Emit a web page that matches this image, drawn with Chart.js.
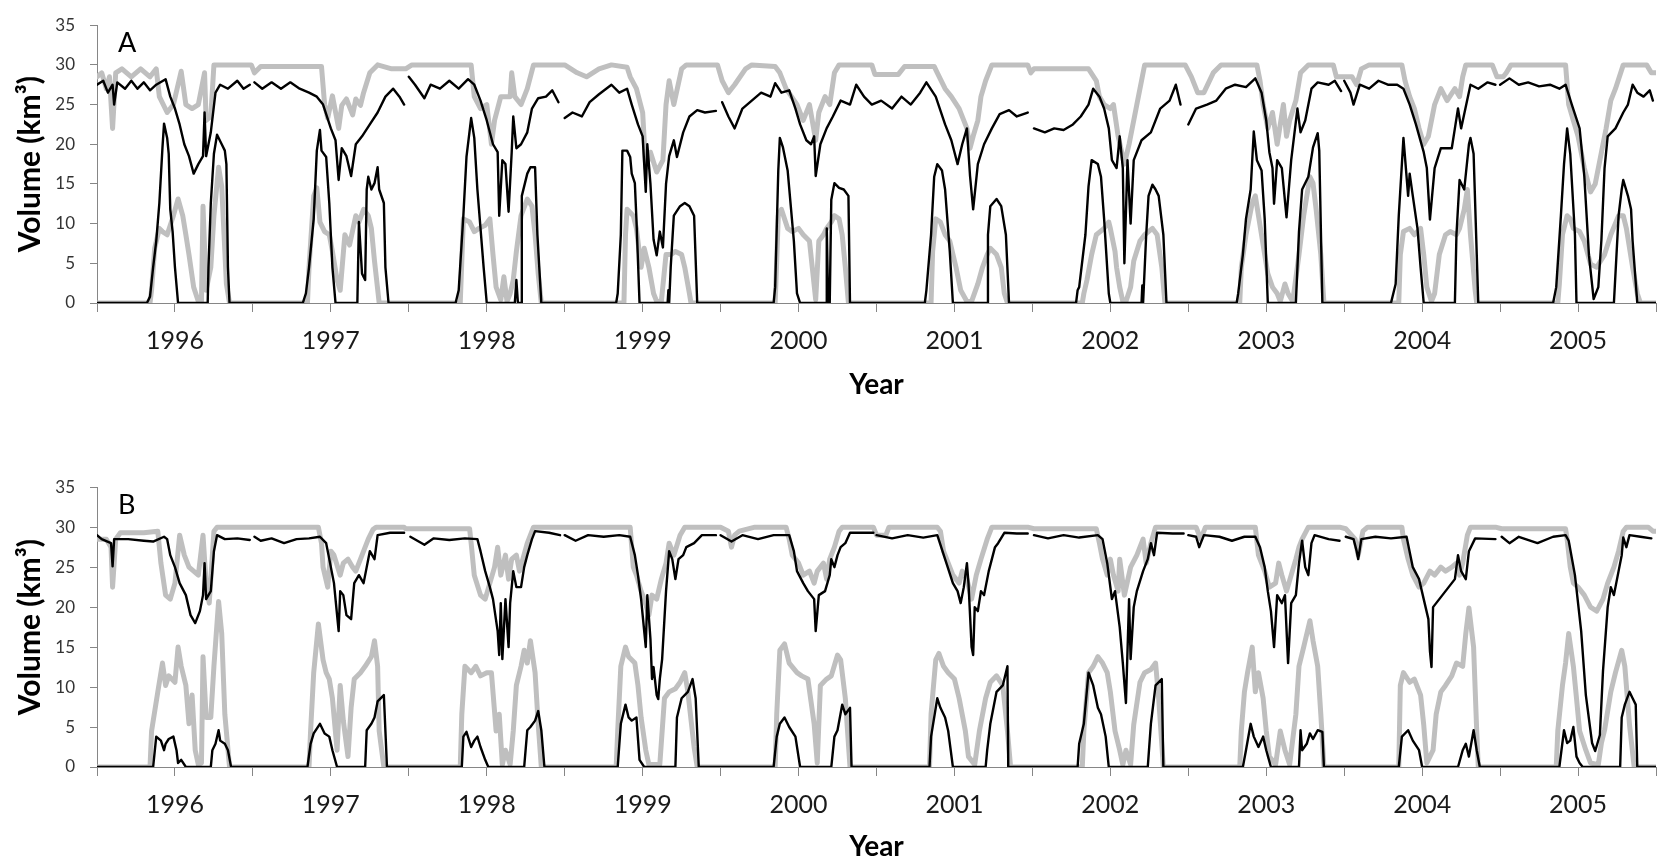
<!DOCTYPE html>
<html>
<head>
<meta charset="utf-8">
<script src="https://cdn.jsdelivr.net/npm/chart.js@4.4.1/dist/chart.umd.min.js"></script>
<style>
  html, body { margin: 0; padding: 0; background: #fff; overflow: hidden; width: 1670px; height: 863px; }
  canvas { position: absolute; left: 0; }
  #chartA { top: 0; }
  #chartB { top: 462px; }
</style>
</head>
<body>
<canvas id="chartA" width="1670" height="432"></canvas>
<canvas id="chartB" width="1670" height="432"></canvas>
<script>
// [year, km3] pairs; null = gap between simulation years
const tickYears = [1996, 1997, 1998, 1999, 2000, 2001, 2002, 2003, 2004, 2005];

// Panel A - simulated (black), upper reservoir
const aSimHigh = [
  [1995.50,27.5],[1995.54,28.0],[1995.57,26.5],[1995.60,27.5],[1995.61,25.0],[1995.63,27.8],[1995.68,27.0],[1995.72,28.0],[1995.76,27.0],[1995.80,27.8],[1995.84,26.8],[1995.88,27.5],[1995.94,28.2],[1995.97,26.0],[1996.00,24.5],[1996.03,22.5],[1996.06,20.0],[1996.09,18.5],[1996.12,16.3],[1996.15,17.5],[1996.18,18.5],[1996.19,24.0],[1996.20,18.5],[1996.23,21.5],[1996.26,26.5],[1996.29,27.5],[1996.34,27.0],[1996.40,28.0],[1996.44,27.0],[1996.48,27.5],[1996.49,null],
  [1996.51,27.8],[1996.56,27.0],[1996.62,27.8],[1996.68,27.0],[1996.74,27.8],[1996.80,27.0],[1996.86,26.5],[1996.91,26.0],[1996.95,25.0],[1997.00,22.0],[1997.03,20.5],[1997.05,15.5],[1997.07,19.5],[1997.10,18.5],[1997.13,16.0],[1997.16,20.0],[1997.20,21.0],[1997.25,22.5],[1997.30,24.0],[1997.35,26.0],[1997.40,27.0],[1997.44,26.0],[1997.47,25.0],[1997.485,null],
  [1997.50,28.5],[1997.54,27.5],[1997.60,25.8],[1997.64,27.5],[1997.70,27.0],[1997.76,28.0],[1997.82,27.0],[1997.88,28.2],[1997.92,27.5],[1997.96,25.5],[1998.00,23.0],[1998.04,20.0],[1998.07,19.0],[1998.08,11.0],[1998.10,18.0],[1998.12,17.5],[1998.14,11.5],[1998.16,19.0],[1998.17,23.5],[1998.19,19.5],[1998.22,20.0],[1998.26,21.5],[1998.29,24.5],[1998.33,25.8],[1998.38,26.0],[1998.42,26.8],[1998.46,25.3],[1998.48,null],
  [1998.50,23.3],[1998.55,24.0],[1998.61,23.5],[1998.66,25.3],[1998.72,26.3],[1998.80,27.5],[1998.85,26.5],[1998.90,27.0],[1998.93,25.0],[1998.97,22.5],[1999.00,21.0],[1999.02,14.0],[1999.03,20.0],[1999.05,15.0],[1999.07,8.0],[1999.09,6.0],[1999.11,9.0],[1999.13,7.0],[1999.15,15.0],[1999.17,18.5],[1999.20,20.5],[1999.22,18.4],[1999.26,21.5],[1999.30,23.5],[1999.35,24.3],[1999.40,24.0],[1999.47,24.2],[1999.49,null],
  [1999.51,25.3],[1999.55,23.5],[1999.59,22.0],[1999.64,24.5],[1999.70,25.5],[1999.76,26.5],[1999.82,26.0],[1999.85,27.7],[1999.89,26.5],[1999.94,26.8],[1999.98,24.5],[2000.01,22.5],[2000.05,20.5],[2000.08,20.0],[2000.10,21.0],[2000.11,16.0],[2000.14,20.0],[2000.18,22.0],[2000.22,23.5],[2000.27,25.5],[2000.33,25.0],[2000.37,27.5],[2000.42,26.0],[2000.47,25.0],[2000.53,25.5],[2000.60,24.5],[2000.66,26.0],[2000.72,25.0],[2000.78,26.5],[2000.82,27.8],[2000.88,26.0],[2000.94,22.5],[2000.98,20.5],[2001.02,17.5],[2001.05,20.0],[2001.08,22.0],[2001.10,16.0],[2001.12,11.8],[2001.15,17.5],[2001.19,20.0],[2001.24,22.0],[2001.29,23.8],[2001.35,24.3],[2001.40,23.5],[2001.47,24.0],[2001.49,null],
  [2001.51,22.0],[2001.58,21.5],[2001.64,22.0],[2001.70,21.8],[2001.76,22.5],[2001.81,23.5],[2001.86,25.0],[2001.89,27.0],[2001.93,26.0],[2001.96,24.5],[2001.99,22.0],[2002.01,18.0],[2002.04,17.0],[2002.06,21.0],[2002.08,17.0],[2002.09,5.0],[2002.11,18.0],[2002.13,10.0],[2002.15,18.0],[2002.20,20.5],[2002.26,21.5],[2002.32,24.5],[2002.38,25.5],[2002.42,27.5],[2002.45,25.0],[2002.47,null],
  [2002.50,22.5],[2002.55,24.5],[2002.62,25.0],[2002.68,25.5],[2002.74,27.0],[2002.80,27.5],[2002.87,27.2],[2002.93,28.3],[2002.97,26.5],[2003.00,23.0],[2003.02,19.0],[2003.04,17.0],[2003.05,12.5],[2003.07,18.0],[2003.10,17.0],[2003.13,10.8],[2003.16,18.0],[2003.20,24.5],[2003.22,21.5],[2003.25,23.0],[2003.29,27.0],[2003.33,27.8],[2003.40,27.5],[2003.44,28.0],[2003.48,26.7],[2003.49,null],
  [2003.50,28.0],[2003.54,26.5],[2003.56,25.0],[2003.60,27.5],[2003.66,27.0],[2003.72,28.0],[2003.78,27.5],[2003.84,27.5],[2003.88,27.0],[2003.92,25.0],[2003.96,22.5],[2004.01,19.0],[2004.03,17.0],[2004.05,10.5],[2004.08,17.0],[2004.12,19.5],[2004.19,19.5],[2004.21,22.0],[2004.23,24.5],[2004.25,22.0],[2004.31,27.5],[2004.36,27.0],[2004.42,27.8],[2004.47,27.5],[2004.485,null],
  [2004.50,27.5],[2004.56,28.3],[2004.62,27.5],[2004.68,27.8],[2004.75,27.3],[2004.82,27.5],[2004.88,27.0],[2004.92,27.5],[2004.96,25.0],[2005.01,22.0],[2005.04,16.0],[2005.07,6.0],[2005.10,0.5],[2005.13,2.0],[2005.15,8.0],[2005.17,17.0],[2005.19,21.0],[2005.24,22.0],[2005.29,24.0],[2005.32,25.0],[2005.35,27.5],[2005.38,26.5],[2005.42,26.0],[2005.46,26.8],[2005.48,25.5]
];

// Panel A - simulated (black), lower reservoir
const aSimLow = [
  [1995.50,0],[1995.82,0],[1995.84,0.8],[1995.86,4.5],[1995.88,7.8],[1995.90,12.6],[1995.92,19.6],[1995.93,22.6],[1995.95,20.8],[1995.96,18.8],[1995.97,11.8],[1995.985,9.0],[1996.00,4.5],[1996.02,0],
  [1996.21,0],[1996.215,4.5],[1996.23,12.6],[1996.25,18.8],[1996.27,21.2],[1996.30,20.0],[1996.32,19.2],[1996.33,17.5],[1996.34,4.5],[1996.35,0],
  [1996.82,0],[1996.84,1.2],[1996.86,4.5],[1996.89,10.6],[1996.91,19.2],[1996.93,21.8],[1996.94,19.2],[1996.97,18.4],[1996.99,12.6],[1997.01,4.5],[1997.03,0],
  [1997.17,0],[1997.18,10.2],[1997.20,3.7],[1997.22,2.9],[1997.23,14.3],[1997.24,15.9],[1997.26,14.3],[1997.28,15.1],[1997.30,17.1],[1997.31,14.3],[1997.34,12.6],[1997.35,4.5],[1997.37,0],
  [1997.80,0],[1997.82,1.6],[1997.85,11.0],[1997.87,18.4],[1997.90,23.3],[1997.92,20.8],[1997.94,14.3],[1997.98,4.5],[1998.00,0],
  [1998.18,0],[1998.19,2.9],[1998.20,0],[1998.22,0],[1998.225,13.5],[1998.26,16.3],[1998.28,17.1],[1998.31,17.1],[1998.325,8.6],[1998.35,0],
  [1998.83,0],[1998.84,1.2],[1998.86,8.6],[1998.87,19.2],[1998.90,19.2],[1998.92,18.4],[1998.93,16.3],[1998.95,15.1],[1998.96,10.6],[1998.98,0],
  [1999.16,0],[1999.165,1.6],[1999.17,0],[1999.18,4.5],[1999.20,11.0],[1999.24,12.2],[1999.27,12.6],[1999.30,12.2],[1999.33,11.0],[1999.35,0],
  [1999.84,0],[1999.85,2.0],[1999.87,16.7],[1999.88,20.8],[1999.90,19.6],[1999.93,16.7],[1999.97,7.8],[1999.99,1.2],[2000.01,0],
  [2000.18,0],[2000.181,9.4],[2000.19,0],[2000.20,0],[2000.21,13.0],[2000.23,15.1],[2000.26,14.5],[2000.29,14.3],[2000.32,13.5],[2000.33,0],
  [2000.81,0],[2000.82,1.6],[2000.85,8.6],[2000.87,15.9],[2000.89,17.5],[2000.92,16.7],[2000.94,14.3],[2000.97,6.5],[2000.99,0],
  [2001.21,0],[2001.215,8.6],[2001.23,12.2],[2001.27,13.1],[2001.30,12.2],[2001.33,8.6],[2001.35,0],
  [2001.78,0],[2001.79,1.6],[2001.80,2.0],[2001.84,8.6],[2001.86,14.7],[2001.88,18.0],[2001.92,17.5],[2001.94,15.9],[2001.96,10.6],[2001.99,1.2],[2002.00,0],
  [2002.20,0],[2002.205,2.2],[2002.21,0],[2002.23,8.6],[2002.245,13.5],[2002.27,14.9],[2002.29,14.3],[2002.31,13.5],[2002.34,8.6],[2002.36,0],
  [2002.81,0],[2002.82,1.2],[2002.85,6.1],[2002.87,10.6],[2002.90,14.3],[2002.92,21.6],[2002.94,18.0],[2002.97,16.7],[2002.99,10.6],[2003.01,0],
  [2003.19,0],[2003.21,9.0],[2003.23,14.3],[2003.27,15.9],[2003.30,19.6],[2003.33,21.4],[2003.34,19.2],[2003.36,0],
  [2003.80,0],[2003.83,2.4],[2003.85,11.0],[2003.87,17.5],[2003.88,20.8],[2003.91,13.5],[2003.92,16.3],[2003.94,13.5],[2003.97,9.4],[2003.99,4.5],[2004.01,0],
  [2004.21,0],[2004.22,8.6],[2004.24,15.5],[2004.27,14.3],[2004.30,20.0],[2004.31,20.8],[2004.33,18.8],[2004.36,0],
  [2004.84,0],[2004.86,2.0],[2004.89,11.0],[2004.91,17.5],[2004.93,22.0],[2004.95,18.8],[2004.98,8.6],[2004.99,0],
  [2005.23,0],[2005.26,11.0],[2005.28,14.3],[2005.29,15.5],[2005.32,13.5],[2005.34,11.8],[2005.35,7.8],[2005.38,0],[2005.50,0]
];

// Panel A - observed (grey), upper reservoir
const aObsHigh = [
  [1995.50,28.5],[1995.53,29.0],[1995.56,27.0],[1995.58,28.5],[1995.60,22.0],[1995.62,29.0],[1995.66,29.5],[1995.72,28.5],[1995.78,29.5],[1995.84,28.5],[1995.88,29.5],[1995.90,26.0],[1995.95,24.0],[1995.99,25.0],[1996.04,29.2],[1996.07,25.0],[1996.11,24.5],[1996.15,25.0],[1996.19,29.0],[1996.20,23.0],[1996.23,23.5],[1996.25,30.0],[1996.49,30.0],[1996.51,29.0],[1996.55,29.8],[1996.94,29.8],[1996.96,25.0],[1996.98,23.3],[1997.01,26.1],[1997.05,22.0],[1997.07,24.9],[1997.10,25.7],[1997.14,23.7],[1997.16,25.7],[1997.19,24.9],[1997.21,26.5],[1997.25,29.0],[1997.30,30.0],[1997.39,29.5],[1997.48,29.5],[1997.52,30.0],
  [1997.90,30.0],[1997.92,26.0],[1997.96,24.5],[1998.00,25.0],[1998.03,20.0],[1998.05,23.0],[1998.09,26.0],[1998.15,26.0],[1998.16,29.0],[1998.18,26.0],[1998.22,25.0],[1998.26,27.0],[1998.30,30.0],[1998.50,30.0],[1998.58,29.0],[1998.64,28.5],[1998.72,29.5],[1998.80,30.0],[1998.90,29.7],[1998.92,28.5],[1998.96,27.0],[1999.00,24.0],[1999.02,17.0],[1999.05,19.0],[1999.09,16.5],[1999.13,18.0],[1999.15,25.0],[1999.17,28.0],[1999.20,25.0],[1999.25,29.5],[1999.28,30.0],
  [1999.48,30.0],[1999.51,28.0],[1999.55,26.5],[1999.59,27.5],[1999.66,29.5],[1999.70,30.0],[1999.85,29.8],[1999.88,29.0],[1999.92,27.0],[1999.99,25.0],[2000.03,23.0],[2000.07,25.0],[2000.11,20.5],[2000.13,24.0],[2000.17,26.0],[2000.20,25.0],[2000.23,29.0],[2000.26,30.0],[2000.47,30.0],[2000.49,28.8],[2000.64,28.8],[2000.68,29.8],[2000.87,29.8],[2000.89,29.0],[2000.94,27.0],[2000.98,26.0],[2001.03,24.5],[2001.08,22.0],[2001.10,19.5],[2001.12,21.0],[2001.15,23.0],[2001.17,26.0],[2001.20,28.0],[2001.24,30.0],
  [2001.47,30.0],[2001.49,29.0],[2001.51,29.5],[2001.86,29.5],[2001.91,28.0],[2001.93,26.0],[2001.96,25.0],[2002.00,24.5],[2002.02,25.0],[2002.05,21.0],[2002.09,17.5],[2002.12,20.0],[2002.17,25.0],[2002.20,28.0],[2002.22,30.0],[2002.48,30.0],[2002.52,28.5],[2002.56,26.5],[2002.60,26.5],[2002.66,29.0],[2002.71,30.0],[2002.94,30.0],[2002.96,28.0],[2002.98,25.0],[2003.01,22.0],[2003.04,24.0],[2003.07,20.0],[2003.11,25.0],[2003.13,21.0],[2003.15,23.0],[2003.19,25.5],[2003.22,29.0],[2003.27,30.0],
  [2003.43,30.0],[2003.45,28.5],[2003.55,28.5],[2003.58,27.5],[2003.61,29.5],[2003.66,30.0],[2003.87,30.0],[2003.89,28.0],[2003.92,26.0],[2003.95,24.5],[2003.98,22.0],[2004.01,20.0],[2004.04,21.0],[2004.08,25.0],[2004.12,27.0],[2004.16,25.5],[2004.21,27.0],[2004.24,26.0],[2004.26,28.5],[2004.28,30.0],[2004.45,30.0],[2004.48,28.5],[2004.52,28.5],[2004.54,29.0],[2004.57,30.0],
  [2004.92,30.0],[2004.94,25.0],[2004.97,23.0],[2005.00,21.0],[2005.04,17.0],[2005.08,14.0],[2005.11,15.0],[2005.15,19.0],[2005.18,22.0],[2005.21,25.5],[2005.24,27.0],[2005.29,30.0],[2005.44,30.0],[2005.47,29.0],[2005.50,29.0]
];

// Panel A - observed (grey), lower reservoir
const aObsLow = [
  [1995.50,0],[1995.84,0],[1995.85,1.6],[1995.87,6.9],[1995.90,9.4],[1995.92,9.0],[1995.95,8.6],[1995.99,11.0],[1996.02,13.1],[1996.05,11.0],[1996.07,8.6],[1996.09,6.1],[1996.12,2.0],[1996.15,0.2],[1996.17,0.2],[1996.18,12.2],[1996.20,1.6],[1996.23,4.5],[1996.25,11.0],[1996.28,17.1],[1996.30,14.7],[1996.33,2.4],[1996.35,0],
  [1996.85,0],[1996.86,4.5],[1996.89,13.5],[1996.91,14.5],[1996.93,10.2],[1996.96,9.0],[1996.99,8.6],[1997.01,6.5],[1997.04,2.9],[1997.06,1.6],[1997.09,8.6],[1997.12,7.3],[1997.16,11.0],[1997.18,10.2],[1997.21,11.8],[1997.24,11.0],[1997.26,9.4],[1997.28,5.3],[1997.31,0],
  [1997.83,0],[1997.84,5.3],[1997.85,10.6],[1997.89,10.2],[1997.92,9.0],[1997.95,9.4],[1997.99,9.8],[1998.02,10.6],[1998.04,6.1],[1998.06,2.0],[1998.09,0.4],[1998.11,3.3],[1998.13,0.2],[1998.15,1.2],[1998.17,2.9],[1998.19,6.5],[1998.22,11.0],[1998.26,13.1],[1998.29,12.2],[1998.31,8.6],[1998.33,3.7],[1998.35,0],
  [1998.88,0],[1998.89,8.6],[1998.90,11.8],[1998.94,11.0],[1998.96,9.4],[1998.99,4.5],[1999.01,6.9],[1999.04,4.5],[1999.07,1.2],[1999.09,0.2],[1999.12,0.2],[1999.15,6.1],[1999.18,6.1],[1999.21,6.5],[1999.25,6.1],[1999.27,4.5],[1999.30,1.2],[1999.31,0],
  [1999.85,0],[1999.86,5.3],[1999.87,11.0],[1999.89,11.8],[1999.93,9.4],[1999.96,9.0],[2000.00,9.4],[2000.03,8.6],[2000.07,7.8],[2000.11,0.4],[2000.13,7.8],[2000.16,8.6],[2000.18,9.4],[2000.21,10.2],[2000.23,11.0],[2000.26,10.6],[2000.28,8.6],[2000.30,4.5],[2000.32,0],
  [2000.85,0],[2000.86,6.5],[2000.88,10.6],[2000.91,10.2],[2000.94,8.6],[2000.97,7.8],[2001.01,4.5],[2001.04,1.6],[2001.08,0.2],[2001.11,0.2],[2001.15,2.4],[2001.18,4.5],[2001.21,6.1],[2001.23,6.9],[2001.27,6.1],[2001.30,4.5],[2001.32,1.2],[2001.34,0],
  [2001.82,0],[2001.83,1.2],[2001.85,2.9],[2001.88,6.1],[2001.91,8.6],[2001.96,9.4],[2001.99,10.2],[2002.00,9.4],[2002.03,6.5],[2002.04,4.5],[2002.06,2.0],[2002.08,0.2],[2002.10,0.2],[2002.13,2.0],[2002.15,5.3],[2002.19,7.8],[2002.22,8.6],[2002.27,9.4],[2002.30,8.6],[2002.33,4.5],[2002.35,0],
  [2002.83,0],[2002.84,4.5],[2002.87,8.6],[2002.91,12.6],[2002.93,13.5],[2002.95,11.0],[2002.99,6.1],[2003.01,3.7],[2003.04,2.0],[2003.07,1.2],[2003.09,0.2],[2003.12,2.4],[2003.14,1.2],[2003.17,0.2],[2003.21,6.1],[2003.24,11.0],[2003.28,15.9],[2003.30,15.1],[2003.32,11.8],[2003.35,6.1],[2003.37,0],
  [2003.85,0],[2003.86,6.1],[2003.88,9.0],[2003.92,9.4],[2003.95,8.6],[2003.99,9.4],[2004.01,6.1],[2004.03,2.0],[2004.06,0.2],[2004.08,1.2],[2004.11,6.1],[2004.15,8.6],[2004.18,9.0],[2004.22,8.6],[2004.24,9.4],[2004.27,11.8],[2004.29,14.3],[2004.31,8.6],[2004.34,1.6],[2004.35,0],
  [2004.87,0],[2004.88,2.4],[2004.90,8.6],[2004.93,11.0],[2004.95,10.6],[2004.97,9.4],[2005.01,9.0],[2005.04,7.8],[2005.08,4.9],[2005.12,4.5],[2005.17,6.1],[2005.21,8.6],[2005.26,11.0],[2005.29,11.0],[2005.31,9.4],[2005.35,4.5],[2005.38,1.2],[2005.40,0],[2005.50,0]
];

// Panel B - simulated (black), upper reservoir
const bSimHigh = [
  [1995.50,29.0],[1995.53,28.5],[1995.59,28.0],[1995.60,25.1],[1995.61,28.5],[1995.70,28.5],[1995.80,28.3],[1995.86,28.2],[1995.93,28.8],[1995.95,28.5],[1995.97,26.5],[1996.00,25.0],[1996.03,23.0],[1996.07,21.5],[1996.10,19.0],[1996.13,18.0],[1996.16,19.5],[1996.18,21.5],[1996.19,25.5],[1996.20,21.0],[1996.23,22.0],[1996.25,27.0],[1996.27,29.0],[1996.32,28.5],[1996.40,28.6],[1996.48,28.4],[1996.49,null],
  [1996.51,28.8],[1996.55,28.3],[1996.62,28.6],[1996.70,28.0],[1996.78,28.5],[1996.86,28.6],[1996.93,28.8],[1996.97,28.0],[1997.00,25.0],[1997.02,23.0],[1997.05,17.0],[1997.06,22.0],[1997.08,21.5],[1997.10,19.0],[1997.13,18.5],[1997.15,23.0],[1997.18,24.0],[1997.21,23.0],[1997.23,25.0],[1997.25,27.0],[1997.28,26.0],[1997.30,29.0],[1997.38,29.3],[1997.47,29.3],[1997.485,null],
  [1997.51,28.8],[1997.60,27.8],[1997.66,28.6],[1997.76,28.4],[1997.86,28.6],[1997.94,28.5],[1997.96,27.0],[1997.99,24.5],[1998.02,22.5],[1998.04,21.0],[1998.07,17.0],[1998.08,14.0],[1998.09,20.5],[1998.10,13.5],[1998.12,21.0],[1998.14,15.0],[1998.15,20.5],[1998.17,24.5],[1998.19,22.5],[1998.22,22.5],[1998.24,25.0],[1998.26,26.5],[1998.29,28.5],[1998.31,29.5],[1998.40,29.3],[1998.47,29.0],[1998.48,null],
  [1998.50,29.0],[1998.57,28.3],[1998.65,29.0],[1998.75,28.8],[1998.85,29.0],[1998.92,28.8],[1998.95,26.5],[1998.97,24.0],[1998.99,21.0],[1999.02,15.0],[1999.03,21.5],[1999.05,16.0],[1999.06,11.0],[1999.07,12.5],[1999.09,9.0],[1999.10,8.5],[1999.11,11.0],[1999.125,13.5],[1999.15,22.0],[1999.17,27.0],[1999.19,26.0],[1999.21,23.5],[1999.23,26.0],[1999.26,26.5],[1999.28,27.5],[1999.33,28.0],[1999.38,29.0],[1999.47,29.0],[1999.485,null],
  [1999.50,29.0],[1999.57,28.2],[1999.64,29.0],[1999.74,28.5],[1999.84,29.0],[1999.94,29.0],[1999.97,27.0],[1999.99,24.5],[2000.03,23.0],[2000.06,22.0],[2000.10,21.0],[2000.11,17.0],[2000.13,21.5],[2000.17,22.0],[2000.20,24.0],[2000.21,26.0],[2000.23,25.0],[2000.25,26.5],[2000.27,27.5],[2000.30,28.0],[2000.33,29.3],[2000.48,29.3],[2000.49,null],
  [2000.50,29.0],[2000.60,28.6],[2000.70,29.0],[2000.80,28.7],[2000.89,29.0],[2000.94,26.0],[2000.99,23.0],[2001.02,22.0],[2001.04,20.5],[2001.06,22.5],[2001.08,25.5],[2001.09,23.0],[2001.11,15.0],[2001.12,14.0],[2001.13,20.0],[2001.15,19.5],[2001.17,22.0],[2001.19,21.5],[2001.22,24.5],[2001.26,27.5],[2001.28,28.0],[2001.32,29.3],[2001.40,29.2],[2001.47,29.2],[2001.49,null],
  [2001.51,29.0],[2001.60,28.6],[2001.70,29.0],[2001.80,28.7],[2001.92,29.0],[2001.95,28.5],[2001.98,25.5],[2002.01,21.0],[2002.03,22.0],[2002.06,17.5],[2002.08,13.0],[2002.10,8.0],[2002.12,21.0],[2002.13,13.5],[2002.15,20.0],[2002.17,22.0],[2002.21,24.5],[2002.24,26.0],[2002.26,28.0],[2002.28,26.5],[2002.30,29.3],[2002.40,29.2],[2002.47,29.2],[2002.485,null],
  [2002.50,29.0],[2002.55,28.8],[2002.57,27.5],[2002.60,29.0],[2002.70,28.8],[2002.78,28.3],[2002.86,28.8],[2002.93,28.8],[2002.96,27.5],[2002.99,25.0],[2003.01,22.0],[2003.03,19.5],[2003.05,15.0],[2003.07,21.5],[2003.10,20.5],[2003.12,21.5],[2003.14,13.0],[2003.16,20.5],[2003.19,21.5],[2003.21,25.5],[2003.23,28.3],[2003.25,25.0],[2003.27,24.0],[2003.29,28.0],[2003.31,29.0],[2003.40,28.5],[2003.47,28.3],[2003.49,null],
  [2003.51,28.8],[2003.56,28.5],[2003.58,27.0],[2003.59,26.0],[2003.61,28.5],[2003.70,28.8],[2003.80,28.6],[2003.90,28.8],[2003.94,25.0],[2003.98,23.5],[2004.01,21.0],[2004.04,18.5],[2004.05,14.5],[2004.06,12.5],[2004.07,20.0],[2004.09,20.5],[2004.13,21.5],[2004.17,22.5],[2004.21,23.5],[2004.23,26.5],[2004.25,24.5],[2004.28,23.5],[2004.30,27.0],[2004.34,28.6],[2004.47,28.5],[2004.49,null],
  [2004.51,28.8],[2004.56,28.0],[2004.62,28.8],[2004.74,28.0],[2004.84,28.8],[2004.92,29.0],[2004.94,28.3],[2004.98,24.0],[2005.02,17.0],[2005.05,9.0],[2005.09,3.0],[2005.11,2.0],[2005.14,4.0],[2005.16,12.0],[2005.19,20.0],[2005.21,22.5],[2005.23,21.5],[2005.26,24.5],[2005.28,26.5],[2005.29,28.7],[2005.31,27.5],[2005.33,29.0],[2005.40,28.8],[2005.47,28.6]
];

// Panel B - simulated (black), lower reservoir
const bSimLow = [
  [1995.50,0],[1995.86,0],[1995.88,3.8],[1995.91,3.3],[1995.93,2.1],[1995.94,2.9],[1995.96,3.5],[1995.99,3.8],[1996.01,2.1],[1996.02,0.5],[1996.04,0.9],[1996.07,0],
  [1996.23,0],[1996.24,2.1],[1996.26,2.9],[1996.28,4.6],[1996.29,3.3],[1996.32,2.9],[1996.34,2.1],[1996.36,0],
  [1996.85,0],[1996.87,2.9],[1996.89,4.2],[1996.93,5.4],[1996.96,4.2],[1996.99,3.8],[1997.01,2.1],[1997.04,0],
  [1997.22,0],[1997.23,4.6],[1997.26,5.4],[1997.28,6.2],[1997.30,8.2],[1997.34,9.0],[1997.36,0],
  [1997.84,0],[1997.85,3.8],[1997.87,4.4],[1997.90,2.5],[1997.92,3.3],[1997.94,3.8],[1997.96,2.5],[1997.99,0.9],[1998.01,0],
  [1998.24,0],[1998.26,4.6],[1998.28,5.0],[1998.31,5.8],[1998.33,7.0],[1998.35,4.6],[1998.37,0],
  [1998.84,0],[1998.86,5.4],[1998.89,7.8],[1998.91,6.2],[1998.93,5.8],[1998.96,6.2],[1998.98,0.9],[1999.01,0],
  [1999.21,0],[1999.22,6.2],[1999.25,8.6],[1999.29,9.4],[1999.32,11.0],[1999.34,8.6],[1999.36,0],
  [1999.84,0],[1999.86,3.8],[1999.88,5.4],[1999.91,6.2],[1999.94,5.0],[1999.98,3.8],[2000.01,0],
  [2000.21,0],[2000.23,3.8],[2000.25,4.6],[2000.28,7.8],[2000.30,6.6],[2000.33,7.4],[2000.34,0],
  [2000.84,0],[2000.85,3.8],[2000.89,8.6],[2000.91,7.4],[2000.94,6.2],[2000.96,4.5],[2000.99,0],
  [2001.20,0],[2001.21,2.1],[2001.23,5.4],[2001.27,9.4],[2001.31,10.2],[2001.34,12.6],[2001.345,0],
  [2001.79,0],[2001.80,2.9],[2001.83,5.4],[2001.86,11.8],[2001.89,10.2],[2001.92,7.4],[2001.94,6.6],[2001.97,3.8],[2001.99,0],
  [2002.24,0],[2002.26,5.4],[2002.29,10.2],[2002.33,11.0],[2002.34,0],
  [2002.85,0],[2002.87,2.1],[2002.90,5.4],[2002.92,3.8],[2002.95,2.5],[2002.98,3.8],[2003.00,2.1],[2003.03,0],
  [2003.21,0],[2003.22,4.6],[2003.23,2.1],[2003.26,2.9],[2003.28,4.2],[2003.30,3.5],[2003.33,4.6],[2003.36,4.4],[2003.37,0],
  [2003.85,0],[2003.87,3.8],[2003.91,4.6],[2003.94,3.3],[2003.98,2.1],[2004.00,0],
  [2004.23,0],[2004.26,2.1],[2004.28,2.9],[2004.30,1.3],[2004.33,4.6],[2004.35,2.1],[2004.37,0],
  [2004.88,0],[2004.91,4.6],[2004.93,3.0],[2004.95,3.3],[2004.97,5.0],[2004.99,1.3],[2005.01,0.5],[2005.03,0],
  [2005.27,0],[2005.28,6.2],[2005.30,7.8],[2005.33,9.4],[2005.35,8.6],[2005.37,7.8],[2005.38,0],[2005.50,0]
];

// Panel B - observed (grey), upper reservoir
const bObsHigh = [
  [1995.50,28.5],[1995.56,28.5],[1995.59,27.5],[1995.60,22.5],[1995.62,28.5],[1995.65,29.3],[1995.80,29.3],[1995.89,29.5],[1995.91,25.5],[1995.94,21.5],[1995.97,21.0],[1996.00,23.0],[1996.03,29.0],[1996.06,26.5],[1996.09,25.0],[1996.12,24.5],[1996.15,24.0],[1996.18,29.0],[1996.20,23.0],[1996.22,20.5],[1996.25,29.5],[1996.27,30.0],
  [1996.92,30.0],[1996.94,28.0],[1996.95,25.0],[1996.98,22.5],[1997.00,27.0],[1997.02,26.5],[1997.06,24.0],[1997.08,25.5],[1997.11,26.0],[1997.14,25.0],[1997.16,24.5],[1997.18,25.5],[1997.20,26.5],[1997.24,28.5],[1997.27,29.7],[1997.29,30.0],[1997.47,30.0],[1997.48,29.8],
  [1997.89,29.8],[1997.90,28.0],[1997.92,24.0],[1997.96,21.5],[1997.99,21.0],[1998.02,23.0],[1998.05,25.0],[1998.07,27.5],[1998.09,24.0],[1998.12,26.5],[1998.14,23.5],[1998.16,26.0],[1998.19,26.5],[1998.21,24.5],[1998.26,28.0],[1998.30,30.0],
  [1998.92,30.0],[1998.94,25.0],[1998.96,24.0],[1998.99,22.0],[1999.01,21.0],[1999.04,19.0],[1999.06,21.5],[1999.09,21.0],[1999.12,23.5],[1999.15,25.5],[1999.17,28.0],[1999.20,26.5],[1999.24,29.0],[1999.27,30.0],[1999.50,30.0],[1999.55,29.5],[1999.57,27.5],[1999.59,29.0],[1999.62,29.5],[1999.72,30.0],
  [1999.92,30.0],[1999.94,28.5],[1999.96,26.5],[2000.00,25.5],[2000.03,24.0],[2000.07,24.5],[2000.10,23.0],[2000.12,24.5],[2000.16,25.5],[2000.18,23.5],[2000.20,26.0],[2000.23,27.5],[2000.26,29.5],[2000.28,30.0],[2000.48,30.0],[2000.50,29.0],[2000.56,29.0],[2000.58,30.0],
  [2000.89,30.0],[2000.91,29.5],[2000.93,27.0],[2000.96,25.5],[2000.99,24.0],[2001.03,23.0],[2001.05,24.5],[2001.08,23.5],[2001.11,21.0],[2001.14,24.0],[2001.17,26.0],[2001.21,28.5],[2001.24,30.0],[2001.47,30.0],[2001.51,29.8],
  [2001.91,29.8],[2001.93,28.0],[2001.95,26.0],[2001.98,24.0],[2002.00,26.0],[2002.02,24.0],[2002.05,22.0],[2002.06,26.0],[2002.09,21.5],[2002.13,25.0],[2002.17,26.5],[2002.21,28.5],[2002.23,25.5],[2002.26,28.0],[2002.29,30.0],[2002.55,30.0],[2002.58,28.5],[2002.61,30.0],
  [2002.93,30.0],[2002.95,26.5],[2002.99,24.5],[2003.02,22.5],[2003.06,23.0],[2003.08,25.5],[2003.10,24.0],[2003.13,22.0],[2003.16,24.0],[2003.19,26.0],[2003.21,27.5],[2003.23,28.5],[2003.27,30.0],[2003.47,30.0],[2003.51,29.8],[2003.57,28.5],[2003.59,26.5],[2003.62,29.5],[2003.65,30.0],
  [2003.87,30.0],[2003.88,28.5],[2003.91,26.0],[2003.94,24.0],[2003.98,22.5],[2004.01,23.0],[2004.05,24.5],[2004.08,24.0],[2004.12,25.0],[2004.15,24.5],[2004.19,25.0],[2004.22,25.5],[2004.24,24.0],[2004.26,25.5],[2004.29,29.0],[2004.31,30.0],[2004.47,30.0],[2004.51,29.8],
  [2004.92,29.8],[2004.93,28.5],[2004.95,25.0],[2004.97,23.0],[2005.00,22.5],[2005.04,21.5],[2005.08,20.0],[2005.12,19.5],[2005.16,21.0],[2005.19,23.0],[2005.23,25.0],[2005.26,27.0],[2005.29,29.5],[2005.31,30.0],[2005.45,30.0],[2005.48,29.5],[2005.50,29.5]
];

// Panel B - observed (grey), lower reservoir
const bObsLow = [
  [1995.50,0],[1995.84,0],[1995.85,4.5],[1995.89,9.4],[1995.92,13.0],[1995.94,10.2],[1995.96,11.4],[1996.00,10.6],[1996.02,15.0],[1996.04,12.6],[1996.07,10.2],[1996.09,5.4],[1996.11,9.0],[1996.13,2.1],[1996.15,0.3],[1996.17,0.5],[1996.18,13.8],[1996.20,6.2],[1996.23,6.2],[1996.25,12.6],[1996.28,20.7],[1996.30,16.7],[1996.32,6.6],[1996.35,0],
  [1996.86,0],[1996.87,4.5],[1996.89,11.8],[1996.92,17.9],[1996.95,13.4],[1996.97,11.8],[1996.99,11.0],[1997.01,8.6],[1997.04,2.1],[1997.06,10.2],[1997.08,5.8],[1997.11,1.3],[1997.13,7.4],[1997.15,11.0],[1997.19,11.8],[1997.22,12.6],[1997.26,13.8],[1997.28,15.8],[1997.30,12.6],[1997.31,4.5],[1997.34,0],
  [1997.83,0],[1997.84,6.6],[1997.86,12.6],[1997.90,11.8],[1997.93,12.6],[1997.96,11.4],[1998.00,11.8],[1998.03,11.8],[1998.06,4.5],[1998.08,6.6],[1998.10,0.3],[1998.12,2.1],[1998.15,0.3],[1998.17,4.5],[1998.19,10.2],[1998.22,12.6],[1998.24,14.6],[1998.26,13.0],[1998.28,15.8],[1998.31,11.8],[1998.33,5.4],[1998.35,0],
  [1998.83,0],[1998.84,4.5],[1998.86,12.6],[1998.89,15.0],[1998.91,13.8],[1998.95,13.0],[1998.97,10.2],[1998.99,6.2],[1999.02,2.1],[1999.04,0.3],[1999.11,0.3],[1999.14,8.6],[1999.17,9.4],[1999.21,9.8],[1999.24,10.6],[1999.27,11.8],[1999.29,9.4],[1999.33,2.5],[1999.35,0],
  [1999.85,0],[1999.86,6.6],[1999.88,14.6],[1999.91,15.4],[1999.94,13.0],[1999.99,11.8],[2000.02,11.4],[2000.06,11.0],[2000.10,5.4],[2000.12,0.5],[2000.14,10.2],[2000.18,11.0],[2000.21,11.4],[2000.25,14.0],[2000.27,13.4],[2000.30,8.6],[2000.33,0],
  [2000.84,0],[2000.85,6.6],[2000.88,13.4],[2000.90,14.2],[2000.93,12.6],[2000.96,11.8],[2001.00,11.0],[2001.03,8.6],[2001.07,4.5],[2001.09,1.3],[2001.13,0.3],[2001.16,4.5],[2001.20,8.6],[2001.23,10.6],[2001.27,11.4],[2001.31,10.2],[2001.34,4.5],[2001.36,0],
  [2001.82,0],[2001.83,4.5],[2001.86,11.8],[2001.89,12.6],[2001.92,13.8],[2001.95,13.0],[2001.98,11.8],[2002.00,9.4],[2002.03,4.5],[2002.06,2.1],[2002.08,0.3],[2002.10,2.1],[2002.13,0.3],[2002.15,5.3],[2002.19,10.6],[2002.22,11.8],[2002.26,12.2],[2002.29,13.0],[2002.31,8.6],[2002.34,0],
  [2002.83,0],[2002.84,4.5],[2002.86,9.4],[2002.88,11.8],[2002.91,15.0],[2002.93,9.4],[2002.95,11.8],[2002.98,8.6],[2003.00,4.5],[2003.02,1.3],[2003.06,0.3],[2003.09,4.5],[2003.12,2.1],[2003.15,0.3],[2003.19,6.6],[2003.21,12.6],[2003.24,15.0],[2003.28,18.3],[2003.30,15.8],[2003.33,12.6],[2003.35,6.6],[2003.37,0],
  [2003.85,0],[2003.86,10.2],[2003.88,11.8],[2003.92,10.6],[2003.95,11.0],[2003.99,9.0],[2004.01,5.3],[2004.03,0.5],[2004.07,2.1],[2004.09,6.6],[2004.12,9.4],[2004.15,10.2],[2004.19,11.4],[2004.22,13.0],[2004.26,12.6],[2004.28,16.7],[2004.30,19.9],[2004.33,15.0],[2004.35,4.5],[2004.36,0],
  [2004.86,0],[2004.87,4.5],[2004.90,10.2],[2004.92,13.0],[2004.94,16.7],[2004.97,12.6],[2004.99,8.6],[2005.01,4.5],[2005.05,2.1],[2005.08,0.5],[2005.13,0.3],[2005.15,3.0],[2005.17,4.6],[2005.21,9.4],[2005.24,11.8],[2005.28,14.6],[2005.30,12.6],[2005.33,5.3],[2005.36,0],[2005.50,0]
];

const GREY = "#bfbfbf";
const AXIS = "#868686";
const FONT = "Lato, 'Open Sans', sans-serif";

function qs(id) {
  return document.getElementById(id);
}

function series(pairs, color, width) {
  return {
    data: pairs.map((p) => ({ x: p[0], y: p[1] })),
    borderColor: color,
    borderWidth: width,
    pointRadius: 0,
    tension: 0,
    fill: false,
    spanGaps: false,
    borderJoinStyle: "round",
    borderCapStyle: "round",
  };
}

// draws the "A" / "B" tag inside the plot
const panelTag = {
  id: "panelTag",
  afterDraw(chart, args, opts) {
    const { ctx, chartArea } = chart;
    ctx.save();
    ctx.font = `27px ${FONT}`;
    ctx.fillStyle = "#000";
    ctx.textBaseline = "alphabetic";
    ctx.fillText(opts.text, chartArea.left + 21, chartArea.top + 27);
    ctx.restore();
  },
};

function makePanel(id, tag, xAxisHeight, simHigh, simLow, obsHigh, obsLow) {
  return new Chart(qs(id), {
    type: "line",
    data: {
      // first datasets are drawn on top: black over grey
      datasets: [
        series(simHigh, "#000", 2.4),
        series(simLow, "#000", 2.4),
        series(obsHigh, GREY, 5),
        series(obsLow, GREY, 5),
      ],
    },
    options: {
      responsive: false,
      animation: false,
      events: [],
      layout: { padding: { top: 17, right: 9, left: 0, bottom: 0 } },
      plugins: {
        legend: { display: false },
        tooltip: { enabled: false },
        panelTag: { text: tag },
      },
      scales: {
        x: {
          type: "linear",
          min: 1995.5,
          max: 2005.5,
          afterFit: (s) => { s.height = xAxisHeight; },
          grid: { drawOnChartArea: false, drawTicks: true, tickLength: 9, color: AXIS },
          border: { color: AXIS },
          ticks: {
            stepSize: 0.5,
            autoSkip: false,
            maxRotation: 0,
            padding: 14,
            color: "#1a1a1a",
            font: { family: FONT, size: 25 },
            callback: (v) => (tickYears.includes(v) ? String(v) : ""),
          },
          title: {
            display: true,
            text: "Year",
            color: "#000",
            font: { family: FONT, size: 28, weight: "bold" },
            padding: { top: 0, bottom: 30 },
          },
        },
        y: {
          min: 0,
          max: 35,
          afterFit: (s) => { s.width = 97; },
          grid: { drawOnChartArea: false, drawTicks: true, tickLength: 7, color: AXIS },
          border: { color: AXIS },
          ticks: {
            stepSize: 5,
            padding: 15,
            color: "#333",
            font: { family: FONT, size: 17 },
          },
          title: {
            display: true,
            text: "Volume (km³)",
            color: "#000",
            font: { family: FONT, size: 30, weight: "bold" },
            padding: { top: 12, bottom: 0 },
          },
        },
      },
    },
    plugins: [panelTag],
  });
}

makePanel("chartA", "A", 129, aSimHigh, aSimLow, aObsHigh, aObsLow);
makePanel("chartB", "B", 127, bSimHigh, bSimLow, bObsHigh, bObsLow);
</script>
</body>
</html>
